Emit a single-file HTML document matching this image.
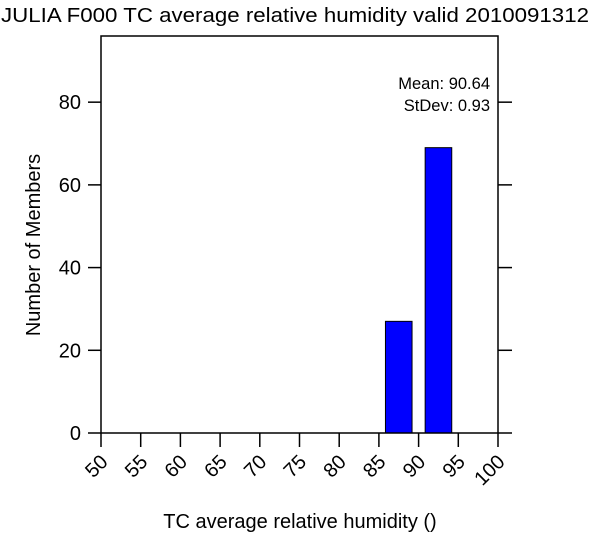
<!DOCTYPE html>
<html><head><meta charset="utf-8"><style>
body{margin:0;background:#fff}
svg text{font-family:"Liberation Sans",sans-serif;fill:#000}
</style></head><body>
<svg id="chart" width="600" height="535">
<text x="295" y="22" text-anchor="middle" font-size="20" textLength="588" lengthAdjust="spacingAndGlyphs">JULIA F000 TC average relative humidity valid 2010091312</text>
<g id="plot"></g>
<text x="490" y="89" text-anchor="end" font-size="16.5">Mean: 90.64</text>
<text x="490" y="111" text-anchor="end" font-size="16.5">StDev: 0.93</text>
<text transform="translate(40,245) rotate(-90)" text-anchor="middle" font-size="20">Number of Members</text>
<text x="300" y="528" text-anchor="middle" font-size="20">TC average relative humidity ()</text>
</svg>
<script>
const binStarts = [85, 90];
const counts = [27, 69];
const xTicks = [50,55,60,65,70,75,80,85,90,95,100];
const yTicks = [0,20,40,60,80];
const X0=101,X1=498,Y0=433,Y1=36;
const xs=v=>X0+(v-50)/50*(X1-X0);
const ys=v=>Y0-v/96*(Y0-Y1);
const NS="http://www.w3.org/2000/svg";
const g=document.getElementById('plot');
function mk(t,a){const e=document.createElementNS(NS,t);for(const k in a)e.setAttribute(k,a[k]);g.appendChild(e);return e;}
binStarts.forEach((b,i)=>{
 const w=5*0.67, c=b+2.5;
 const r=mk('rect',{x:xs(c-w/2),y:ys(counts[i]),width:xs(c+w/2)-xs(c-w/2),height:Y0-ys(counts[i]),fill:'#0000ff',stroke:'#000','stroke-width':1});
 
 
});
const f=mk('rect',{x:X0,y:Y1,width:X1-X0,height:Y0-Y1,fill:'none',stroke:'#000','stroke-width':1.5});


yTicks.forEach(v=>{
 const y=ys(v);
 const l=mk('line',{x1:X0-13,x2:X0,y1:y,y2:y,stroke:'#000','stroke-width':1.5});
 
 
 const l2=mk('line',{x1:X1,x2:X1+14,y1:y,y2:y,stroke:'#000','stroke-width':1.5});
 
 
 const t=mk('text',{x:81,y:y+7,'text-anchor':'end','font-size':20});
 t.textContent=v;
 
 
});
xTicks.forEach(v=>{
 const x=xs(v);
 const l=mk('line',{x1:x,x2:x,y1:Y0,y2:Y0+14,stroke:'#000','stroke-width':1.5});
 
 
 const t=mk('text',{transform:`translate(${x+8},${Y0+30}) rotate(-45)`,'text-anchor':'end','font-size':20});
 t.textContent=v;
 
 
});
</script>
</body></html>
